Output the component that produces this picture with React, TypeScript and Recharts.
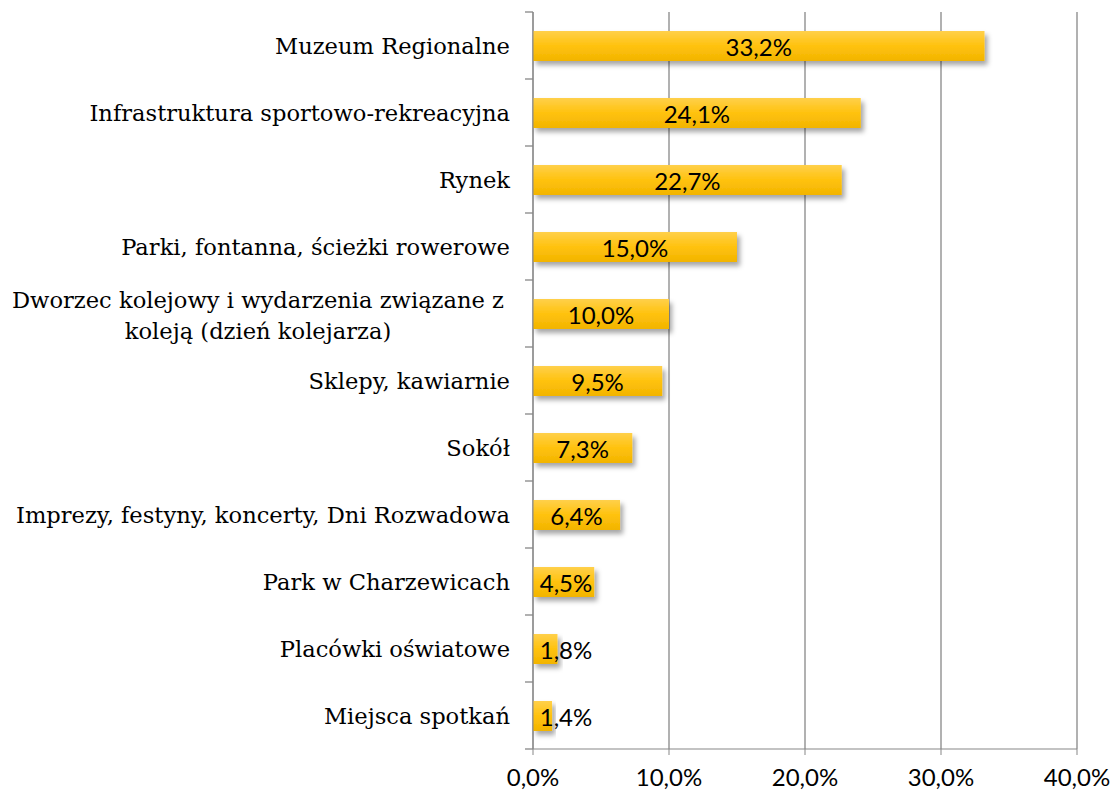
import { BarChart, Bar, XAxis, YAxis, CartesianGrid, LabelList } from 'recharts'

const categories = [
  'Muzeum Regionalne',
  'Infrastruktura sportowo-rekreacyjna',
  'Rynek',
  'Parki, fontanna, ścieżki rowerowe',
  'Dworzec kolejowy i wydarzenia związane z\nkoleją (dzień kolejarza)',
  'Sklepy, kawiarnie',
  'Sokół',
  'Imprezy, festyny, koncerty, Dni Rozwadowa',
  'Park w Charzewicach',
  'Placówki oświatowe',
  'Miejsca spotkań',
]
const values = [33.2, 24.1, 22.7, 15.0, 10.0, 9.5, 7.3, 6.4, 4.5, 1.8, 1.4]
const xTicks = [0, 10, 20, 30, 40]

const data = categories.map((name, i) => ({ name, value: values[i] }))

const W = 1115
const H = 796
const TOP = 12
const XAXIS_H = 47
const BAND = (H - TOP - XAXIS_H) / categories.length

const GRID = '#878787'
const pct = (v: number) => `${v.toFixed(1).replace('.', ',')}%`

function CategoryTick(props: any) {
  const { x, y, payload, index } = props
  const lines: string[] = String(payload.value).split('\n')
  const last = index === categories.length - 1
  return (
    <g>
      <line x1={x - 8} x2={x} y1={y - BAND / 2} y2={y - BAND / 2} stroke={GRID} strokeWidth={1.3} />
      {last && <line x1={x - 8} x2={x} y1={y + BAND / 2} y2={y + BAND / 2} stroke={GRID} strokeWidth={1.3} />}
      {lines.length === 1 ? (
        <text x={x - 23} y={y} textAnchor="end" dominantBaseline="central" fontFamily="'DejaVu Serif', serif" fontSize={22.6} fill="#000">
          {lines[0]}
        </text>
      ) : (
        <text x={x - 275} y={y} textAnchor="middle" fontFamily="'DejaVu Serif', serif" fontSize={22.6} fill="#000">
          {lines.map((l, i) => (
            <tspan key={i} x={x - 275} dy={i === 0 ? -6 : 31}>
              {l}
            </tspan>
          ))}
        </text>
      )}
    </g>
  )
}

function ValueLabel(props: any) {
  const { x, y, width, height, value } = props
  const text = pct(Number(value))
  const tw = text.length * 13.5
  const cx = Math.max(x + width / 2, x + 6 + tw / 2)
  return (
    <text x={cx} y={y + height / 2} textAnchor="middle" dominantBaseline="central" fontFamily="Lato, sans-serif" fontSize={24} fill="#000">
      {text}
    </text>
  )
}

export default function App() {
  return (
    <div style={{ position: 'absolute', left: 0, top: 0, width: W, height: H, background: '#fff' }}>
      <BarChart width={W} height={H} data={data} layout="vertical" margin={{ top: TOP, right: 38, left: 0, bottom: 0 }}>
        <defs>
          <linearGradient id="barFill" x1="0" y1="0" x2="0" y2="1">
            <stop offset="0%" stopColor="#FFD04A" />
            <stop offset="50%" stopColor="#FFC20E" />
            <stop offset="100%" stopColor="#F2B400" />
          </linearGradient>
          <filter id="barShadow" x="-10%" y="-30%" width="130%" height="180%">
            <feDropShadow dx="3" dy="4" stdDeviation="2.5" floodColor="#000" floodOpacity="0.35" />
          </filter>
        </defs>
        <CartesianGrid horizontal={false} stroke={GRID} strokeWidth={1.3} />
        <XAxis
          type="number"
          domain={[0, 40]}
          ticks={xTicks}
          tickFormatter={pct}
          height={XAXIS_H}
          stroke={GRID}
          tickSize={6}
          tickMargin={14}
          tick={{ fontFamily: 'Lato, sans-serif', fontSize: 24, fill: '#000' }}
        />
        <YAxis
          type="category"
          dataKey="name"
          width={533}
          stroke={GRID}
          tickLine={false}
          tickSize={0}
          tickMargin={0}
          interval={0}
          tick={<CategoryTick />}
        />
        <Bar dataKey="value" barSize={30} fill="url(#barFill)" filter="url(#barShadow)" isAnimationActive={false}>
          <LabelList dataKey="value" content={<ValueLabel />} />
        </Bar>
      </BarChart>
    </div>
  )
}
